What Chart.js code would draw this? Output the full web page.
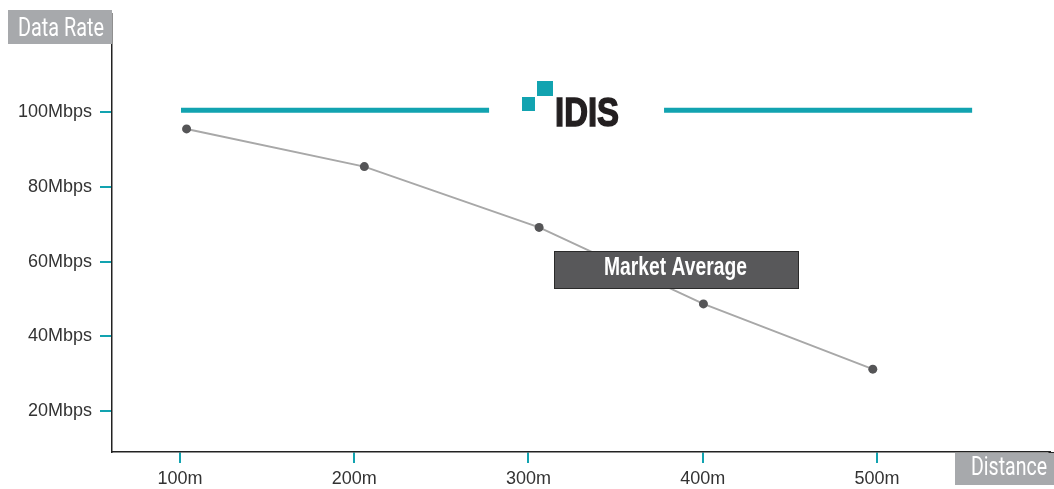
<!DOCTYPE html>
<html>
<head>
<meta charset="utf-8">
<script src="https://cdn.jsdelivr.net/npm/chart.js@4/dist/chart.umd.min.js"></script>
<style>
  html, body { margin: 0; padding: 0; background: #ffffff; }
  #wrap { position: relative; width: 1054px; height: 489px; }
</style>
</head>
<body>
<div id="wrap"><canvas id="rate-chart" width="1054" height="489"></canvas></div>
<script>
// tick labels
const distanceTicks = [100, 200, 300, 400, 500];
const rateTicks = [20, 40, 60, 80, 100];

// market average series (distance in m, rate in Mbps)
const marketDistance = [103.8, 205.8, 306.1, 400.4, 497.6];
const marketRate = [95.6, 85.5, 69.2, 48.7, 31.2];

// IDIS level line, drawn as two pieces around the logo
const idisRate = 100.6;
const idisStart = [100.6, 377.8];
const idisEnd = [277.4, 554.6];

const TEAL = "#12a3b0";
const TICK_FONT = { family: "'Liberation Sans', Arial, sans-serif", size: 18 };

const idisPoints = [];
idisStart.forEach((start, i) => {
  if (i > 0) {
    idisPoints.push({ x: (idisEnd[i - 1] + start) / 2, y: null });
  }
  idisPoints.push({ x: start, y: idisRate });
  idisPoints.push({ x: idisEnd[i], y: idisRate });
});

// draws text squeezed horizontally so it spans the given width (condensed look)
function fitText(ctx, text, left, baseline, width, font, color, heavy = 0) {
  ctx.save();
  ctx.font = font;
  ctx.fillStyle = color;
  ctx.textAlign = "left";
  ctx.textBaseline = "alphabetic";
  const measured = ctx.measureText(text).width;
  ctx.translate(left, baseline);
  ctx.scale(width / measured, 1);
  ctx.fillText(text, 0, 0);
  if (heavy) {
    ctx.strokeStyle = color;
    ctx.lineWidth = heavy;
    ctx.lineJoin = "miter";
    ctx.strokeText(text, 0, 0);
  }
  ctx.restore();
}

const decorations = {
  id: "decorations",
  afterDatasetsDraw(chart) {
    const ctx = chart.ctx;
    ctx.save();

    // logo
    ctx.fillStyle = TEAL;
    ctx.fillRect(522, 97, 13, 14);
    ctx.fillRect(537, 81, 16, 15);
    fitText(ctx, "IDIS", 555, 125.5, 64, "bold 40px 'Liberation Sans', Arial, sans-serif", "#231f20", 1.5);

    // market average tag
    ctx.fillStyle = "#58585a";
    ctx.fillRect(554, 251, 245, 38);
    ctx.strokeStyle = "#2a2a2a";
    ctx.lineWidth = 1;
    ctx.strokeRect(554.5, 251.5, 244, 37);
    fitText(ctx, "Market Average", 604, 275, 143, "bold 25px 'Liberation Sans', Arial, sans-serif", "#ffffff");
    ctx.restore();
  },
  afterDraw(chart) {
    const ctx = chart.ctx;
    ctx.save();
    // x axis line runs to the right edge of the picture
    ctx.strokeStyle = "#222222";
    ctx.lineWidth = 1.5;
    ctx.beginPath();
    ctx.moveTo(chart.chartArea.right - 1, chart.chartArea.bottom + 0.75);
    ctx.lineTo(1054, chart.chartArea.bottom + 0.75);
    ctx.stroke();

    ctx.fillStyle = "#a7a9ac";
    ctx.fillRect(8, 10, 104, 34);
    fitText(ctx, "Data Rate", 18, 36, 86, "26px Roboto, 'Liberation Sans', sans-serif", "#ffffff");
    ctx.fillStyle = "#a7a9ac";
    ctx.fillRect(955, 453, 99, 32);
    fitText(ctx, "Distance", 971, 475, 76, "26px Roboto, 'Liberation Sans', sans-serif", "#ffffff");
    ctx.restore();
  },
};

function noEdgePadding(scale) {
  scale.paddingTop = 0;
  scale.paddingBottom = 0;
  scale.paddingLeft = 0;
  scale.paddingRight = 0;
}

new Chart(document.getElementById("rate-chart"), {
  type: "line",
  data: {
    datasets: [
      {
        label: "IDIS",
        data: idisPoints,
        borderColor: TEAL,
        borderWidth: 5,
        borderCapStyle: "butt",
        pointRadius: 0,
        spanGaps: false,
      },
      {
        label: "Market Average",
        data: marketDistance.map((d, i) => ({ x: d, y: marketRate[i] })),
        borderColor: "#a8a8a8",
        borderWidth: 2,
        pointRadius: 4.5,
        pointBackgroundColor: "#555557",
        pointBorderColor: "#555557",
        pointBorderWidth: 0,
      },
    ],
  },
  options: {
    responsive: false,
    animation: false,
    layout: { padding: { top: 14, right: 0, left: 0, bottom: 0 } },
    plugins: {
      legend: { display: false },
      tooltip: { enabled: false },
    },
    scales: {
      x: {
        type: "linear",
        min: 61,
        max: 599,
        afterBuildTicks: (scale) => {
          scale.ticks = distanceTicks.map((v) => ({ value: v }));
        },
        afterFit: (scale) => {
          scale.height = 37;
          noEdgePadding(scale);
        },
        ticks: {
          color: "#333333",
          font: TICK_FONT,
          padding: 5,
          maxRotation: 0,
          callback: (v) => `${v}m`,
        },
        grid: {
          drawOnChartArea: false,
          tickLength: 11,
          tickColor: TEAL,
          lineWidth: 2,
        },
        border: { color: "#222222", width: 1.5 },
      },
      y: {
        min: 9,
        max: 126.4,
        afterBuildTicks: (scale) => {
          scale.ticks = rateTicks.map((v) => ({ value: v }));
        },
        afterFit: (scale) => {
          scale.width = 112;
          noEdgePadding(scale);
        },
        ticks: {
          color: "#333333",
          font: TICK_FONT,
          padding: 8,
          callback: (v) => `${v}Mbps`,
        },
        grid: {
          drawOnChartArea: false,
          tickLength: 12,
          tickColor: TEAL,
          lineWidth: 2,
        },
        border: { color: "#222222", width: 1.5 },
      },
    },
  },
  plugins: [decorations],
});
</script>
</body>
</html>
